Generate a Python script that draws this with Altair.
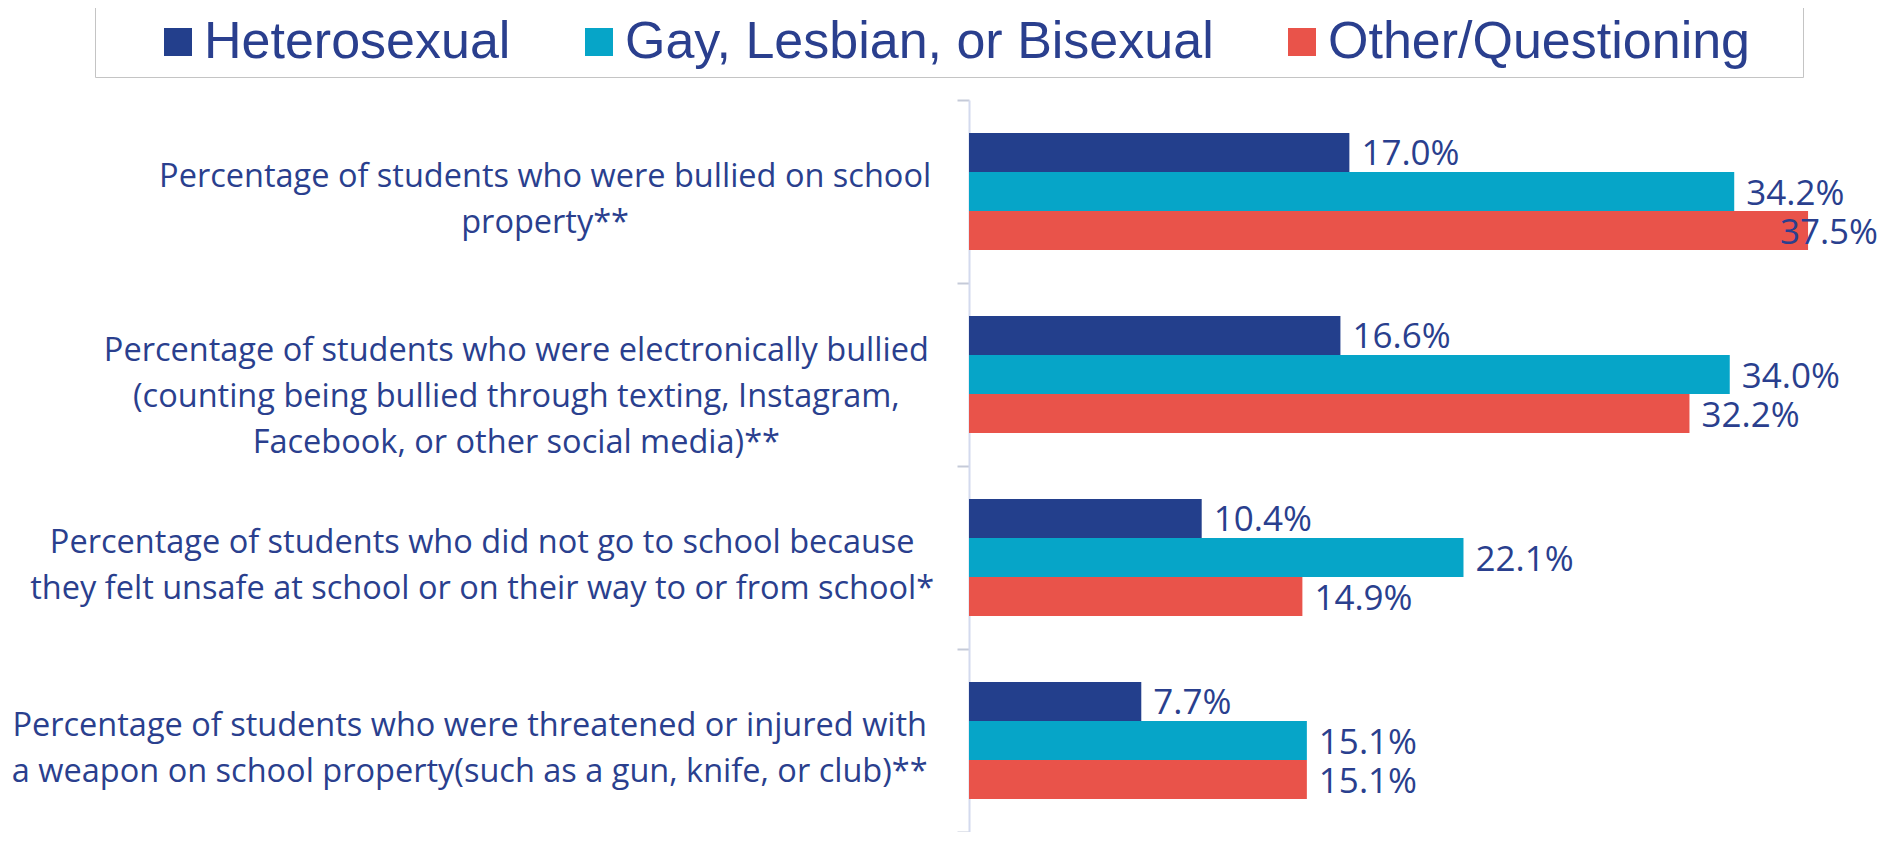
import altair as alt
import pandas as pd

categories = [
    "Percentage of students who were bullied on school\nproperty**",
    "Percentage of students who were electronically bullied\n(counting being bullied through texting, Instagram,\nFacebook, or other social media)**",
    "Percentage of students who did not go to school because\nthey felt unsafe at school or on their way to or from school*",
    "Percentage of students who were threatened or injured with\na weapon on school property(such as a gun, knife, or club)**",
]
groups = ["Heterosexual", "Gay, Lesbian, or Bisexual", "Other/Questioning"]
heterosexual = [17.0, 16.6, 10.4, 7.7]
gay_lesbian_bisexual = [34.2, 34.0, 22.1, 15.1]
other_questioning = [37.5, 32.2, 14.9, 15.1]
colors = ["#233F8C", "#06A5C8", "#E9534A"]
navy = "#2A3F8E"

rows = []
for g, vals in zip(groups, [heterosexual, gay_lesbian_bisexual, other_questioning]):
    for c, v in zip(categories, vals):
        rows.append({"category": c, "group": g, "value": v})
df = pd.DataFrame(rows)

LABEL_SIZE = 32.5

# Excel-like label block: right edge next to the axis, lines centred in the block.
# Block width is estimated from the characters of the longest line (in em).
n_lines = "length(split(datum.value, '\\n'))"


def line_em(k):
    line = f"(split(datum.value, '\\n')[{k}] || '')"
    return (
        f"(0.57 * length({line})"
        f" - 0.27 * length(replace({line}, regexp('[^iljtfr .,()]', 'g'), ''))"
        f" + 0.28 * length(replace({line}, regexp('[^mw]', 'g'), '')))"
    )


block_em = f"max({line_em(0)}, {line_em(1)}, {line_em(2)})"

base = alt.Chart(df).encode(
    y=alt.Y(
        "category:N",
        sort=categories,
        scale=alt.Scale(paddingInner=0, paddingOuter=0),
        axis=alt.Axis(
            title=None,
            labelExpr="split(datum.label, '\\n')",
            labelAlign="center",
            labelBaseline="middle",
            labelFont="Open Sans",
            labelFontSize=LABEL_SIZE,
            labelLineHeight=46,
            labelColor=navy,
            labelPadding=alt.ExprRef(expr=f"24 + {LABEL_SIZE / 2} * {block_em}"),
            labelOffset=alt.ExprRef(expr=f"8 - ({n_lines} - 1) * 23 + ({n_lines} > 2 ? 14 : 0)"),
            labelLimit=3000,
            labelOverlap=False,
            tickBand="extent",
            tickSize=12,
            tickWidth=2,
            tickColor="#C5CAD8",
            domainColor="#D3DAEE",
            domainWidth=2,
            grid=False,
        ),
    ),
    yOffset=alt.YOffset(
        "group:N", sort=groups, scale=alt.Scale(paddingInner=0, paddingOuter=0.846)
    ),
    x=alt.X("value:Q", scale=alt.Scale(domain=[0, 40], nice=False, zero=True), axis=None),
)

bars = base.mark_bar().encode(
    color=alt.Color(
        "group:N",
        sort=groups,
        scale=alt.Scale(domain=groups, range=colors),
        legend=alt.Legend(
            orient="none",
            legendX=-874,
            legendY=-93,
            direction="horizontal",
            columns=3,
            title="\u00a0",
            titleOrient="left",
            titlePadding=48,
            symbolType="square",
            symbolSize=784,
            symbolStrokeWidth=0,
            symbolOpacity=1,
            labelFont="Liberation Sans",
            labelFontSize=52,
            labelColor=navy,
            labelOffset=0,
            labelLimit=3000,
            # trailing room inside the legend frame after the last entry
            labelExpr="indexof(datum.label, 'Other') >= 0 ? datum.label + '\u00a0\u00a0\u00a0\u200b' : datum.label",
            columnPadding=62,
            padding=9,
            strokeColor="#C4C4C4",
        ),
    )
)

text_style = dict(baseline="middle", dy=2, font="Open Sans", fontSize=35, color=navy)

labels_main = (
    base.transform_calculate(txt="format(datum.value, '.1f') + '%'")
    .transform_filter("datum.value < 36")
    .mark_text(align="left", dx=12, **text_style)
    .encode(text="txt:N")
)
labels_edge = (
    base.transform_calculate(txt="format(datum.value, '.1f') + '%'")
    .transform_filter("datum.value >= 36")
    .mark_text(align="right", dx=70, **text_style)
    .encode(text="txt:N")
)

chart = (
    alt.layer(bars, labels_main, labels_edge)
    .properties(
        width=895,
        height=732,
        padding={"left": 961, "top": 92, "right": 14, "bottom": 0},
        autosize=alt.AutoSizeParams(type="none"),
        background="white",
    )
    .configure_view(stroke=None)
)

chart.save("out.html", embed_options={"renderer": "svg", "actions": False})
